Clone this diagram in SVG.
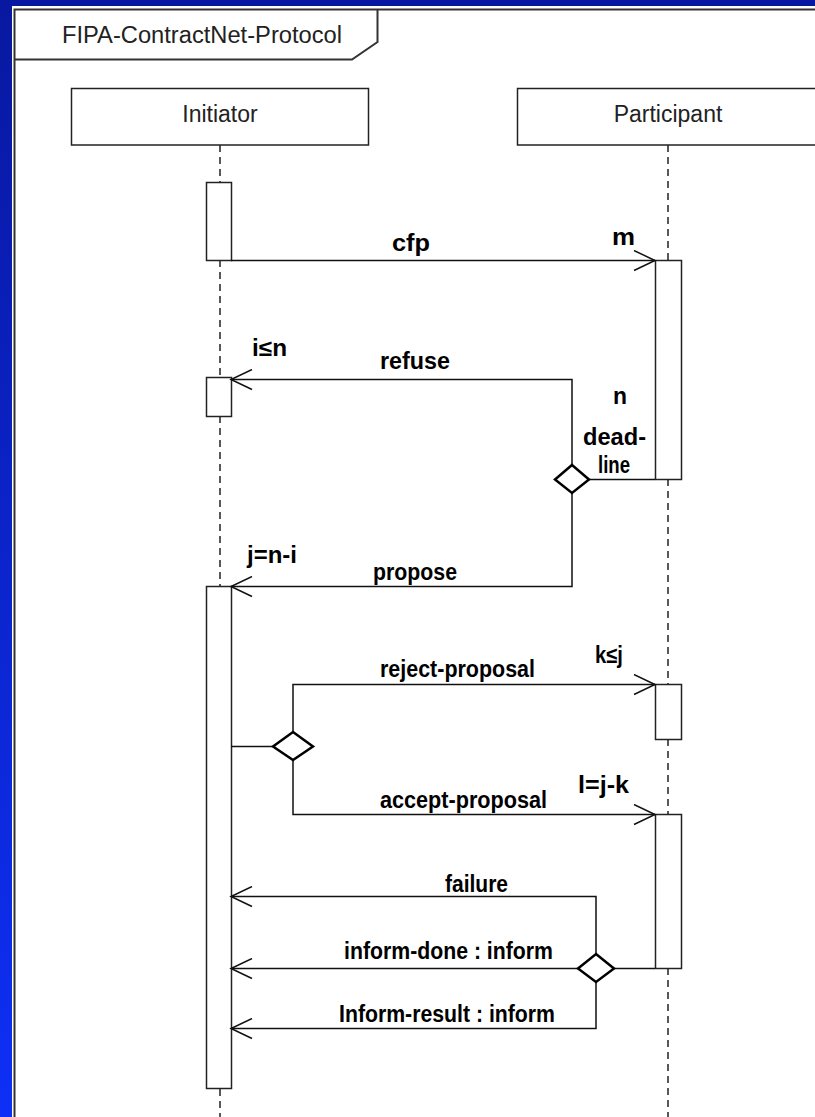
<svg xmlns="http://www.w3.org/2000/svg" width="815" height="1117" viewBox="0 0 815 1117">
<defs>
<linearGradient id="bg" x1="0" y1="0" x2="0" y2="1">
<stop offset="0" stop-color="#0818a0"/>
<stop offset="1" stop-color="#0e30f6"/>
</linearGradient>
<marker id="open" markerWidth="24" markerHeight="22" refX="22" refY="11" orient="auto" markerUnits="userSpaceOnUse" viewBox="0 0 24 22">
<path d="M1,1 L22,11 L1,21" fill="none" stroke="#111" stroke-width="1.5"/>
</marker>
<style>
.line{fill:none;stroke:#111;stroke-width:1.5}
.frame{fill:none;stroke:#333;stroke-width:2}
.box{fill:#fff;stroke:#222;stroke-width:1.5}
.life{fill:none;stroke:#222;stroke-width:1.5;stroke-dasharray:7 5}
.dia{fill:#fff;stroke:#000;stroke-width:2.5}
.hdr{font-family:"Liberation Sans",Arial,sans-serif;font-size:23px;fill:#222}
.msg{font-family:"Liberation Sans",Arial,sans-serif;font-size:23px;font-weight:bold;fill:#000}
</style>
</defs>
<rect x="0" y="0" width="815" height="1117" fill="url(#bg)"/>
<rect x="12" y="6" width="803" height="1111" fill="#fff"/>
<g id="frame">
<path class="frame" d="M14.5,1125 V9.5 H830"/>
<path class="frame" d="M14.5,59.5 H352 L377.5,42 V9.5"/>
<text class="hdr" x="62" y="43" textLength="280" lengthAdjust="spacingAndGlyphs">FIPA-ContractNet-Protocol</text>
</g>
<g id="lifelines">
<path class="life" d="M220,145 V182 M220,260 V377 M220,416 V586 M220,1089 V1117"/>
<path class="life" d="M668,145 V260 M668,479 V684 M668,739 V814 M668,968 V1117"/>
</g>
<g id="initiator">
<rect class="box" x="71.5" y="88.5" width="297" height="56.5"/>
<text class="hdr" x="220" y="122" text-anchor="middle">Initiator</text>
</g>
<g id="participant">
<rect class="box" x="517.5" y="88.5" width="320" height="56.5"/>
<text class="hdr" x="668" y="122" text-anchor="middle">Participant</text>
</g>
<g id="activations">
<rect id="init-act1" class="box" x="206.5" y="182.5" width="25" height="78"/>
<rect id="init-act2" class="box" x="206.5" y="377.5" width="25" height="39"/>
<rect id="init-act3" class="box" x="206.5" y="586.5" width="25" height="502"/>
<rect id="part-act1" class="box" x="655.5" y="260.5" width="26" height="219"/>
<rect id="part-act2" class="box" x="655.5" y="684.5" width="26" height="55"/>
<rect id="part-act3" class="box" x="655.5" y="814.5" width="26" height="154"/>
</g>
<g id="connectors">
<path class="line" d="M231,260.5 H655" marker-end="url(#open)"/>
<path class="line" d="M572,465 V379.5 H231" marker-end="url(#open)"/>
<path class="line" d="M589,479.5 H655"/>
<path class="line" d="M572,493 V586.5 H231" marker-end="url(#open)"/>
<path class="line" d="M231,746.5 H273"/>
<path class="line" d="M293,732 V684.5 H655" marker-end="url(#open)"/>
<path class="line" d="M293,760 V814.5 H655" marker-end="url(#open)"/>
<path class="line" d="M655,968.5 H614"/>
<path class="line" d="M596,954 V896.5 H231" marker-end="url(#open)"/>
<path class="line" d="M578,968.5 H231" marker-end="url(#open)"/>
<path class="line" d="M596,982 V1028.5 H231" marker-end="url(#open)"/>
</g>
<g id="decision1">
<path class="dia" d="M572,465 L589,479.5 L572,493 L555,479.5 Z"/>
</g>
<g id="decision2">
<path class="dia" d="M293,732 L313,746.5 L293,760 L273,746.5 Z"/>
</g>
<g id="decision3">
<path class="dia" d="M596,954 L614,968.5 L596,982 L578,968.5 Z"/>
</g>
<g id="labels">
<text class="msg" x="392" y="251" textLength="38" lengthAdjust="spacingAndGlyphs">cfp</text>
<text class="msg" x="612" y="245" textLength="23" lengthAdjust="spacingAndGlyphs">m</text>
<text class="msg" x="252" y="356" textLength="35" lengthAdjust="spacingAndGlyphs">i≤n</text>
<text class="msg" x="380" y="369" textLength="70" lengthAdjust="spacingAndGlyphs">refuse</text>
<text class="msg" x="613" y="404" textLength="14" lengthAdjust="spacingAndGlyphs">n</text>
<text class="msg" x="583" y="445" textLength="63" lengthAdjust="spacingAndGlyphs">dead-</text>
<text class="msg" x="598" y="473" textLength="32" lengthAdjust="spacingAndGlyphs">line</text>
<text class="msg" x="247" y="563" textLength="50" lengthAdjust="spacingAndGlyphs">j=n-i</text>
<text class="msg" x="373" y="580" textLength="84" lengthAdjust="spacingAndGlyphs">propose</text>
<text class="msg" x="595" y="663" textLength="28" lengthAdjust="spacingAndGlyphs">k≤j</text>
<text class="msg" x="380" y="677" textLength="155" lengthAdjust="spacingAndGlyphs">reject-proposal</text>
<text class="msg" x="578" y="793" textLength="51" lengthAdjust="spacingAndGlyphs">l=j-k</text>
<text class="msg" x="380" y="808" textLength="167" lengthAdjust="spacingAndGlyphs">accept-proposal</text>
<text class="msg" x="445" y="892" textLength="63" lengthAdjust="spacingAndGlyphs">failure</text>
<text class="msg" x="344" y="959" textLength="209" lengthAdjust="spacingAndGlyphs">inform-done : inform</text>
<text class="msg" x="339" y="1022" textLength="216" lengthAdjust="spacingAndGlyphs">Inform-result : inform</text>
</g>
</svg>
